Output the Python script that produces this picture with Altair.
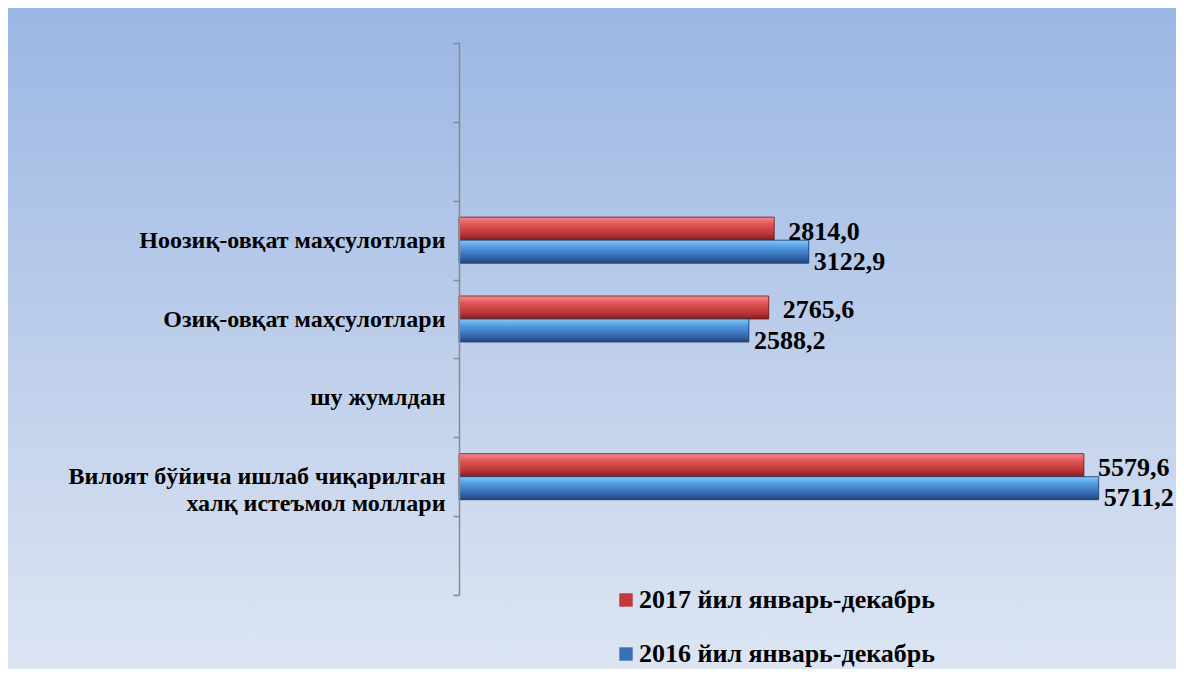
import altair as alt
import pandas as pd

# Category keys (top to bottom) and their display labels ("|" = line break)
cat_keys = ["c1", "c2", "c3", "c4", "c5", "c6", "c7"]
cat_labels = ["", "", "Ноозиқ-овқат маҳсулотлари", "Озиқ-овқат маҳсулотлари",
              "шу жумлдан", "Вилоят бўйича ишлаб чиқарилган|халқ истеъмол моллари", ""]

series = ["2017 йил январь-декабрь", "\u00a02016 йил январь-декабрь"]
data_cats = ["c3", "c4", "c6"]
values_2017 = [2814.0, 2765.6, 5579.6]
values_2016 = [3122.9, 2588.2, 5711.2]

rows = []
for c, v in zip(data_cats, values_2017):
    rows.append({"cat": c, "series": series[0], "value": v})
for c, v in zip(data_cats, values_2016):
    rows.append({"cat": c, "series": series[1], "value": v})
df = pd.DataFrame(rows)

label_map = "{" + ",".join(f"'{k}': '{l}'" for k, l in zip(cat_keys, cat_labels)) + "}"

FONT = "Liberation Serif"
red_solid = "#C0393B"
blue_solid = "#3A70B8"

red_grad = {"gradient": "linear", "x1": 0, "y1": 0, "x2": 0, "y2": 1,
            "stops": [{"offset": 0, "color": "#F58C8C"}, {"offset": 0.3, "color": "#E25656"},
                      {"offset": 0.75, "color": "#B83435"}, {"offset": 1, "color": "#7E1E20"}]}
blue_grad = {"gradient": "linear", "x1": 0, "y1": 0, "x2": 0, "y2": 1,
             "stops": [{"offset": 0, "color": "#86C8F7"}, {"offset": 0.3, "color": "#519BE0"},
                       {"offset": 0.75, "color": "#3566AC"}, {"offset": 1, "color": "#22467C"}]}
bg_grad = {"gradient": "linear", "x1": 0, "y1": 0, "x2": 0, "y2": 1,
           "stops": [{"offset": 0, "color": "#9AB6E3"}, {"offset": 0.5, "color": "#BDCEEB"},
                     {"offset": 1, "color": "#DEE6F3"}]}

y_enc = alt.Y("cat:N", sort=cat_keys,
              scale=alt.Scale(domain=cat_keys, paddingInner=0, paddingOuter=0),
              axis=alt.Axis(title=None,
                            labelExpr=f"split({label_map}[datum.value] || '', '|')",
                            labelFont=FONT, labelFontSize=24, labelFontWeight="bold",
                            labelColor="#000000", labelPadding=8, labelAlign="right",
                            labelLineHeight=27, labelLimit=500, zindex=1,
                            domainColor="#8A8A8A", domainWidth=1.5, tickColor="#8A8A8A",
                            tickWidth=1.5, tickSize=6, tickBand="extent", grid=False))
x_enc = alt.X("value:Q", scale=alt.Scale(domain=[0, 6000]), axis=None)
yoff = alt.YOffset("series:N", sort=series,
                   scale=alt.Scale(domain=series, paddingInner=0, paddingOuter=0.714))

base = alt.Chart(df)

background = alt.Chart(pd.DataFrame({"a": [0]})).mark_rect(color=bg_grad).encode(
    x=alt.value(-460), x2=alt.value(730), y=alt.value(-40), y2=alt.value(640))

solid = base.mark_bar().encode(
    x=x_enc, y=y_enc, yOffset=yoff,
    color=alt.Color("series:N", sort=series,
                    scale=alt.Scale(domain=series, range=[red_solid, blue_solid]),
                    legend=alt.Legend(title=None, orient="none", legendX=154, legendY=544,
                                      direction="vertical", symbolType="square", symbolSize=180,
                                      symbolStrokeWidth=0, labelLimit=500,
                                      labelFont=FONT, labelFontSize=26, labelFontWeight="bold",
                                      labelColor="#000000", rowPadding=28, labelOffset=0)))

red_bars = base.transform_filter(alt.datum.series == series[0]).mark_bar(
    color=red_grad, stroke="#6E1A1B", strokeWidth=0.8).encode(x=x_enc, y=y_enc, yOffset=yoff)
blue_bars = base.transform_filter(alt.datum.series == series[1]).mark_bar(
    color=blue_grad, stroke="#1E3C6A", strokeWidth=0.8).encode(x=x_enc, y=y_enc, yOffset=yoff)

def labels(idx, dx, dy):
    return base.transform_filter(alt.datum.series == series[idx]).transform_calculate(
        lab="replace(format(datum.value, '.1f'), '.', ',')"
    ).mark_text(align="left", baseline="middle", dx=dx, dy=dy, font=FONT, fontSize=26,
                fontWeight="bold", color="#000000").encode(
        x=x_enc, y=y_enc, yOffset=yoff, text="lab:N")

chart = alt.layer(background, solid, red_bars, blue_bars,
                  labels(0, 14, 3), labels(1, 5, 10)).properties(
    width=672, height=552,
    padding={"left": 451, "top": 35, "right": 45, "bottom": 74},
    autosize=alt.AutoSizeParams(type="none"),
).configure_view(stroke=None).configure(background="#FFFFFF")

chart.save("out.html", embed_options={"renderer": "svg", "actions": False})
